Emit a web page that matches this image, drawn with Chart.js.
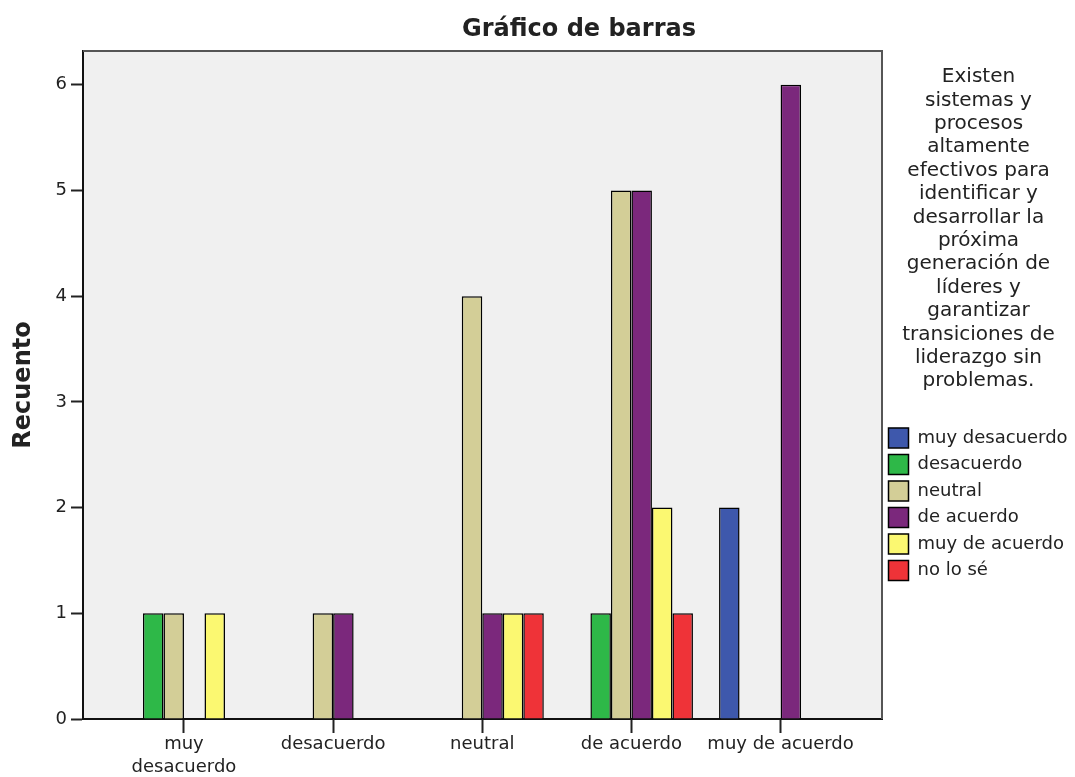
<!DOCTYPE html>
<html>
<head>
<meta charset="utf-8">
<script src="https://cdn.jsdelivr.net/npm/chart.js@4"></script>
<style>
  html, body { margin: 0; padding: 0; background: #fff; }
  #wrap { width: 1075px; height: 777px; }
</style>
</head>
<body>
<div id="wrap"><canvas id="chart" width="1075" height="777"></canvas></div>
<script>
/* ===== DATA ===== */
const categories = ["muy desacuerdo", "desacuerdo", "neutral", "de acuerdo", "muy de acuerdo"];
const tickLabels = [["muy", "desacuerdo"], "desacuerdo", "neutral", "de acuerdo", "muy de acuerdo"];
const seriesNames = ["muy desacuerdo", "desacuerdo", "neutral", "de acuerdo", "muy de acuerdo", "no lo sé"];

const muyDesacuerdo = [null, null, null, null, 2];
const desacuerdo = [1, null, null, 1, null];
const neutral = [1, 1, 4, 5, null];
const deAcuerdo = [null, 1, 1, 5, 6];
const muyDeAcuerdo = [1, null, 1, 2, null];
const noLoSe = [null, null, 1, 1, null];

const yTicks = [0, 1, 2, 3, 4, 5, 6];

const legendTitle = [
  "Existen", "sistemas y", "procesos", "altamente", "efectivos para",
  "identificar y", "desarrollar la", "próxima", "generación de",
  "líderes y", "garantizar", "transiciones de", "liderazgo sin", "problemas."
];

const seriesValues = [muyDesacuerdo, desacuerdo, neutral, deAcuerdo, muyDeAcuerdo, noLoSe];
const colors = ["#3e58ac", "#2eb848", "#d3ce97", "#7b287c", "#fbf871", "#ef3338"];

const FONT = "'DejaVu Sans', sans-serif";
const TEXT = "#222";

/* ===== PLUGINS ===== */
const plotFrame = {
  id: "plotFrame",
  beforeDraw(chart) {
    const { ctx, chartArea: a } = chart;
    ctx.save();
    ctx.fillStyle = "#f0f0f0";
    ctx.fillRect(a.left, a.top, a.right - a.left, a.bottom - a.top);
    ctx.restore();
  },
  afterDraw(chart) {
    const { ctx, chartArea: a } = chart;
    ctx.save();
    ctx.strokeStyle = "#555";
    ctx.lineWidth = 2;
    ctx.beginPath();
    ctx.moveTo(a.left, a.top);
    ctx.lineTo(a.right, a.top);
    ctx.lineTo(a.right, a.bottom);
    ctx.stroke();
    // main title, centred over plot + legend
    ctx.fillStyle = TEXT;
    ctx.font = "bold 24px " + FONT;
    ctx.textAlign = "center";
    ctx.textBaseline = "middle";
    ctx.fillText("Gráfico de barras", (a.left + chart.width) / 2, 30);
    ctx.restore();
  }
};

/* ===== CHART ===== */
const ctx = document.getElementById("chart").getContext("2d");

const chart = new Chart(ctx, {
  type: "bar",
  data: {
    datasets: seriesNames.map((name, s) => ({
      label: name,
      data: seriesValues[s].map((v, i) => ({ x: i, y: v })),
      backgroundColor: colors[s],
      borderColor: "#000",
      borderWidth: 1.5,
      categoryPercentage: 0.825,
      barPercentage: 1
    }))
  },
  options: {
    responsive: false,
    animation: false,
    layout: { padding: { top: 51, right: 0, left: 0, bottom: 0 } },
    plugins: {
      title: { display: false },
      tooltip: { enabled: false },
      legend: {
        position: "right",
        align: "start",
        fullSize: false,
        maxWidth: 193,
        title: {
          display: true,
          text: legendTitle,
          color: TEXT,
          position: "center",
          font: { family: FONT, size: 20, lineHeight: "23.4px" },
          padding: { top: 16, bottom: 331 }
        },
        labels: {
          boxWidth: 20,
          boxHeight: 20,
          padding: 6.5,
          color: TEXT,
          font: { family: FONT, size: 18 }
        }
      }
    },
    scales: {
      x: {
        type: "linear",
        offset: false,
        min: -0.677,
        max: 4.68,
        afterFit(scale) { scale.height = 58; },
        border: { display: true, color: "#111", width: 2 },
        grid: {
          display: true,
          offset: false,
          drawOnChartArea: false,
          drawTicks: true,
          tickLength: 14,
          color: "#222",
          tickWidth: 2
        },
        ticks: {
          stepSize: 1,
          includeBounds: false,
          autoSkip: false,
          maxRotation: 0,
          padding: 0,
          color: TEXT,
          font: { family: FONT, size: 18, lineHeight: "23px" },
          callback: (v) => tickLabels[v] !== undefined ? tickLabels[v] : ""
        }
      },
      y: {
        min: 0,
        max: 6.32,
        afterFit(scale) { scale.width = 83; },
        border: { display: true, color: "#111", width: 2 },
        grid: {
          display: true,
          drawOnChartArea: false,
          drawTicks: true,
          tickLength: 12,
          color: "#222",
          tickWidth: 2
        },
        afterBuildTicks(scale) { scale.ticks = yTicks.map(v => ({ value: v })); },
        ticks: {
          padding: 4,
          color: TEXT,
          font: { family: FONT, size: 18 }
        },
        title: {
          display: true,
          text: "Recuento",
          color: TEXT,
          font: { family: FONT, size: 24, weight: "bold" },
          padding: { top: 9, bottom: 0 }
        }
      }
    }
  },
  plugins: [plotFrame]
});
</script>
</body>
</html>
